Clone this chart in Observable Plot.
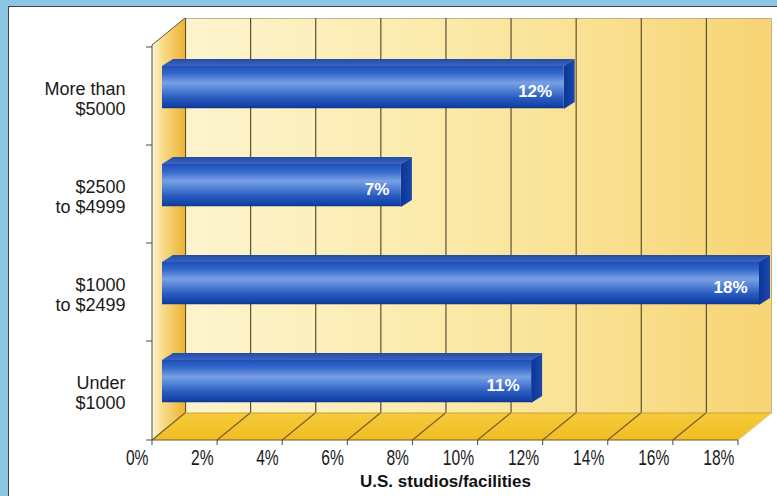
<!DOCTYPE html>
<html><head><meta charset="utf-8">
<script src="https://cdn.jsdelivr.net/npm/d3@7"></script>
<script src="https://cdn.jsdelivr.net/npm/@observablehq/plot@0.6"></script>
<style>
html,body{margin:0;padding:0}
body{width:777px;height:496px;position:relative;overflow:hidden;background:#8cc6e4}
#panel{position:absolute;left:8px;top:6px;width:769px;height:490px;background:#fff;border-left:1.5px solid #3d4650;border-top:1.5px solid #3d4650;box-sizing:border-box}
#chart{position:absolute;left:0;top:0}
</style></head><body>
<div id="panel"></div><div id="chart"></div>
<script>
// ---- data ----
const categories = ["More than\n$5000", "$2500\nto $4999", "$1000\nto $2499", "Under\n$1000"];
const shares = [12, 7, 18, 11];
const xTicks = [0, 2, 4, 6, 8, 10, 12, 14, 16, 18];
const xTickLabels = ["0%", "2%", "4%", "6%", "8%", "10%", "12%", "14%", "16%", "18%"];
const axisTitle = "U.S. studios/facilities";

const bars = categories.map((c, i) => ({category: c, share: shares[i], label: shares[i] + "%"}));
const ticks = xTicks.map((v, i) => ({v, label: xTickLabels[i]}));

// ---- 3D styling constants (pixels) ----
const DX = 33, DY = -27;        // depth of the chart box
const BDX = 11, BDY = -7;       // depth of each bar
const FACE_DX = 21, FACE_LEFT = 10, FACE_TOP = 19, FACE_BOTTOM = 62;

function defsMark() {
  const d = d3.create("svg:defs");
  const lin = (id, x2, y2, stops) => {
    const g = d.append("linearGradient").attr("id", id)
      .attr("x1", 0).attr("y1", 0).attr("x2", x2).attr("y2", y2);
    stops.forEach(([o, c]) => g.append("stop").attr("offset", o).attr("stop-color", c));
  };
  lin("backWall", 1, 0, [[0, "#fdf4cf"], [0.45, "#fbeaa9"], [1, "#f7d474"]]);
  lin("leftWall", 1, 0, [[0, "#fdf5d6"], [0.35, "#f8da86"], [1, "#eeb233"]]);
  lin("floor", 0, 1, [[0, "#f6ca3c"], [1, "#f1bd22"]]);
  lin("barFront", 0, 1, [[0, "#1f4fb5"], [0.18, "#3568cc"], [0.4, "#78a0e4"], [0.55, "#5585d8"],
                         [0.75, "#2a5cc0"], [0.92, "#1646ab"], [1, "#0e3590"]]);
  lin("barTop", 0, 1, [[0, "#244ca4"], [1, "#3864c2"]]);
  lin("barSide", 1, 0, [[0, "#0c3594"], [1, "#1b48ae"]]);
  return d.node();
}

function boxMark(index, {x}, values, dim) {
  const x0 = x(0), x1 = x(18);
  const top = dim.marginTop, bot = dim.height - dim.marginBottom;
  const g = d3.create("svg:g");
  g.append("path").attr("d", `M${x0},${top}L${x0 + DX},${top + DY}L${x0 + DX},${bot + DY}L${x0},${bot}Z`)
    .attr("fill", "url(#leftWall)");
  g.append("path").attr("d", `M${x0},${bot}L${x0 + DX},${bot + DY}L${x1 + DX},${bot + DY}L${x1},${bot}Z`)
    .attr("fill", "url(#floor)");
  g.append("line").attr("x1", x0 + DX).attr("x2", x1 + DX).attr("y1", bot + DY).attr("y2", bot + DY)
    .attr("stroke", "#c9a236").attr("stroke-width", 1);
  for (const t of xTicks) {
    g.append("line").attr("x1", x(t)).attr("y1", bot).attr("x2", x(t) + DX).attr("y2", bot + DY)
      .attr("stroke", t === 18 ? "#e6c770" : "#6f5d2c").attr("stroke-width", 1.1);
  }
  g.append("line").attr("x1", x0).attr("y1", top).attr("x2", x0 + DX).attr("y2", top + DY)
    .attr("stroke", "#5a5040").attr("stroke-width", 1);
  return g.node();
}

function barDepthMark(index, {x, y}) {
  const g = d3.create("svg:g");
  for (const b of bars) {
    const xl = x(0) + FACE_LEFT, xr = x(b.share) + FACE_DX;
    const yt = y(b.category) + FACE_TOP, yb = y(b.category) + FACE_BOTTOM;
    g.append("path").attr("d", `M${xl},${yt}L${xl + BDX},${yt + BDY}L${xr + BDX},${yt + BDY}L${xr},${yt}Z`)
      .attr("fill", "url(#barTop)");
    g.append("path").attr("d", `M${xr},${yt}L${xr + BDX},${yt + BDY}L${xr + BDX},${yb + BDY}L${xr},${yb}Z`)
      .attr("fill", "url(#barSide)");
  }
  return g.node();
}

function axesMark(index, {x, y}, values, dim) {
  const x0 = x(0), x1 = x(18);
  const top = dim.marginTop, bot = dim.height - dim.marginBottom;
  const g = d3.create("svg:g").attr("stroke", "#4d4a44").attr("stroke-width", 1);
  g.append("line").attr("x1", x0).attr("x2", x0).attr("y1", top).attr("y2", bot);
  g.append("line").attr("x1", x0).attr("x2", x1).attr("y1", bot).attr("y2", bot).attr("stroke", "#6a5a2a");
  const bounds = categories.map(c => y(c)).concat([bot]);
  for (const yy of bounds) g.append("line").attr("x1", x0 - 6).attr("x2", x0).attr("y1", yy).attr("y2", yy);
  for (const t of xTicks) g.append("line").attr("x1", x(t)).attr("x2", x(t)).attr("y1", bot).attr("y2", bot + 5);
  return g.node();
}

const chart = Plot.plot({
  width: 777, height: 496,
  marginLeft: 152, marginRight: 39, marginTop: 45, marginBottom: 56,
  style: {background: "transparent", overflow: "visible"},
  x: {domain: [0, 18], axis: null},
  y: {domain: categories, padding: 0, axis: null},
  marks: [
    defsMark,
    Plot.frame({fill: "url(#backWall)", stroke: "#b3a27a", strokeWidth: 0.8, dx: DX, dy: DY}),
    Plot.ruleX(xTicks.filter(t => t < 18), {x: d => d, stroke: "#5e4f33", strokeWidth: 1.2, dx: DX, dy: DY}),
    boxMark,
    barDepthMark,
    Plot.barX(bars, {x: "share", y: "category", fill: "url(#barFront)", dx: FACE_DX,
      insetLeft: -(FACE_DX - FACE_LEFT), insetTop: FACE_TOP, insetBottom: 98.75 - FACE_BOTTOM}),
    axesMark,
    Plot.text(bars, {x: "share", y: "category", text: "label", textAnchor: "end", dx: FACE_DX - 12, dy: -5,
      fill: "white", fontWeight: "bold", fontSize: 17, fontFamily: "Liberation Sans, Arial, sans-serif"}),
    Plot.text(categories, {y: d => d, text: d => d, frameAnchor: "left", textAnchor: "end", dx: -27, dy: 2,
      lineHeight: 1.12, fontSize: 18, fill: "#1a1a1a", fontFamily: "Liberation Sans, Arial, sans-serif"}),
    Plot.text(ticks, {x: "v", text: "label", frameAnchor: "bottom", textAnchor: "end", dx: -4, dy: 24,
      fontSize: 22, fill: "#1a1a1a", fontFamily: "Liberation Sans, Arial, sans-serif"}),
    Plot.text([axisTitle], {text: d => d, frameAnchor: "bottom", dy: 46, fontSize: 17, fontWeight: "bold",
      fill: "#111", fontFamily: "Liberation Sans, Arial, sans-serif"})
  ]
});

// condense the tick labels horizontally (condensed typeface look)
const tickSet = new Set(xTickLabels);
d3.select(chart).selectAll("text").filter(function () {
  return tickSet.has(this.textContent) &&
    (this.parentNode.getAttribute("font-size") === "22" || this.getAttribute("font-size") === "22");
}).each(function () {
  const t = d3.select(this);
  let tr = t.attr("transform") || "";
  const xa = t.attr("x"), ya = t.attr("y");
  if (xa != null || ya != null) {
    tr += ` translate(${+xa || 0},${+ya || 0})`;
    t.attr("x", null).attr("y", null);
  }
  t.attr("transform", (tr + " scale(0.71,1)").trim());
});
document.getElementById("chart").append(chart);
</script>
</body></html>
